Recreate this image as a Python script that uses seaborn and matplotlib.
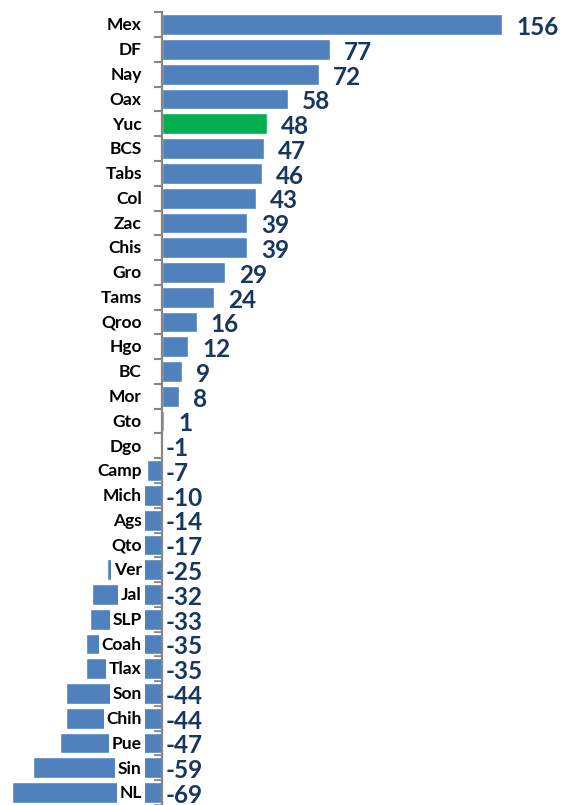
import pandas as pd
import matplotlib.pyplot as plt
import seaborn as sns
import numpy as np

# states and their values, top to bottom as in the chart
states = ['Mex', 'DF', 'Nay', 'Oax', 'Yuc', 'BCS', 'Tabs', 'Col', 'Zac', 'Chis',
          'Gro', 'Tams', 'Qroo', 'Hgo', 'BC', 'Mor', 'Gto', 'Dgo', 'Camp', 'Mich',
          'Ags', 'Qto', 'Ver', 'Jal', 'SLP', 'Coah', 'Tlax', 'Son', 'Chih', 'Pue',
          'Sin', 'NL']
values = [156, 77, 72, 58, 48, 47, 46, 43, 39, 39,
          29, 24, 16, 12, 9, 8, 1, -1, -7, -10,
          -14, -17, -25, -32, -33, -35, -35, -44, -44, -47,
          -59, -69]
highlight = 'Yuc'

blue = '#4F81BD'
green = '#00B050'
navy = '#17375E'
axis_gray = '#868686'

sns.set_style('white')
plt.rcParams['font.family'] = ['Lato', 'DejaVu Sans']

df = pd.DataFrame({'State': states, 'Value': values})
colors = {s: (green if s == highlight else blue) for s in states}

fig = plt.figure(figsize=(5.61, 8.05), dpi=100)
ax = fig.add_axes([0, 0, 1, 1])
sns.barplot(data=df, x='Value', y='State', hue='State', palette=colors,
            legend=False, orient='h', width=0.84, saturation=1, ax=ax)

ax.set_xlim(-74.3, 183)
ax.set_ylim(31.33, -1.0)

# axis line at zero with ticks between categories
for side in ['top', 'right', 'bottom']:
    ax.spines[side].set_visible(False)
ax.spines['left'].set_position(('data', 0))
ax.spines['left'].set_bounds(-0.5, len(states) - 0.5)
ax.spines['left'].set_color(axis_gray)
ax.spines['left'].set_linewidth(1.6)
ax.spines['left'].set_zorder(5)
ax.set_yticks(np.arange(-0.5, len(states), 1))
ax.set_yticklabels([])
ax.tick_params(axis='y', direction='out', length=6, width=1.5, color=axis_gray, left=True)
ax.set_xticks([])
ax.set_xlabel('')
ax.set_ylabel('')

# category labels next to the axis, with white boxes over the bars
for i, s in enumerate(states):
    ax.annotate(s, xy=(0, i), xytext=(-14.5, -0.5), textcoords='offset points',
                ha='right', va='center', fontsize=12.5, fontweight='bold', color='black',
                bbox=dict(boxstyle='square,pad=0.16', fc='white', ec='none'), zorder=4)

# value labels
for i, v in enumerate(values):
    if v >= 0:
        ax.annotate(str(v), xy=(v, i), xytext=(10, -2), textcoords='offset points',
                    ha='left', va='center', fontsize=17.5, fontweight='bold', color=navy, zorder=6)
    else:
        ax.annotate(str(v), xy=(0, i), xytext=(2.5, -2), textcoords='offset points',
                    ha='left', va='center', fontsize=17.5, fontweight='bold', color=navy, zorder=6)

plt.savefig('out.png', dpi=100)
